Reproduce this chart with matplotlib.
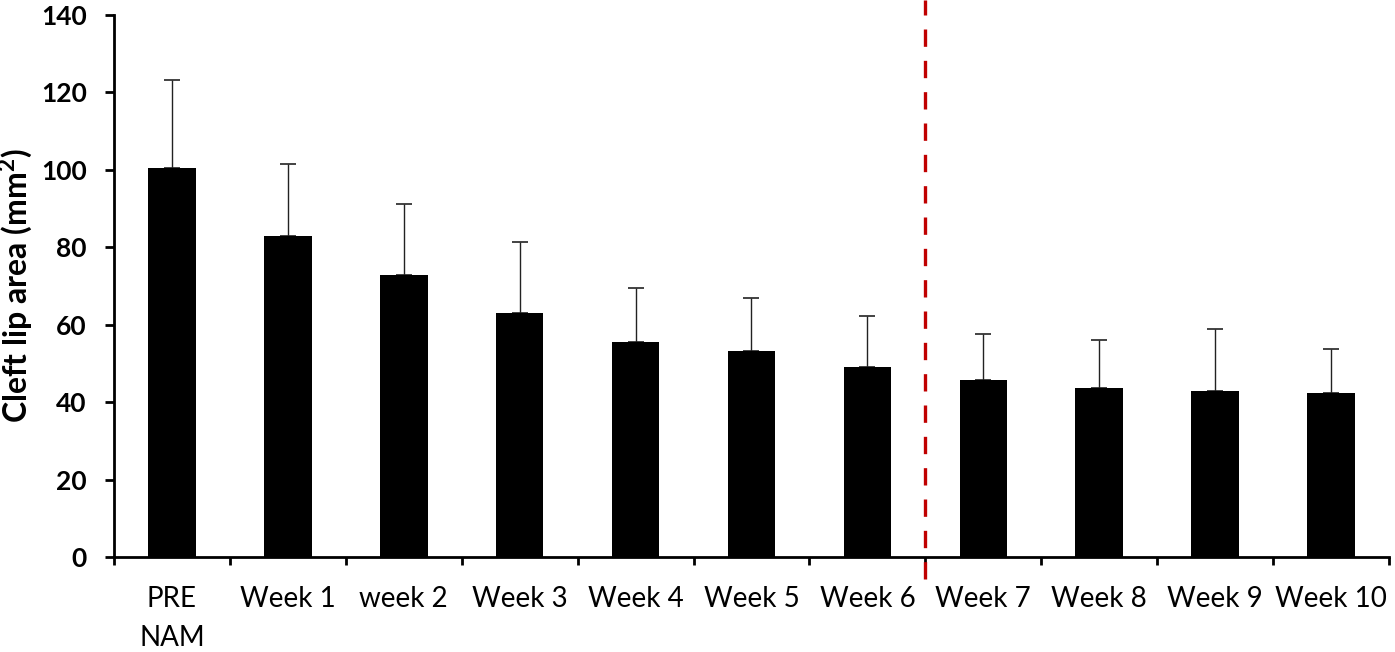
import matplotlib.pyplot as plt
import numpy as np

categories = ['PRE\nNAM', 'Week 1', 'week 2', 'Week 3', 'Week 4', 'Week 5',
              'Week 6', 'Week 7', 'Week 8', 'Week 9', 'Week 10']
mean_area = [100.5, 82.8, 72.8, 63.0, 55.6, 53.3, 49.0, 45.6, 43.6, 43.0, 42.4]
upper_err = [22.8, 18.8, 18.3, 18.3, 14.0, 13.7, 13.3, 12.0, 12.5, 16.0, 11.4]
cutoff = 6.5  # red dashed divider between week 6 and week 7

plt.rcParams['font.family'] = ['Lato', 'DejaVu Sans']

fig = plt.figure(figsize=(13.95, 6.52), dpi=100)
ax = fig.add_axes([0.0817, 0.1457, 0.9140, 0.8313])

x = np.arange(len(categories))
ax.bar(x, mean_area, width=0.41, color='black', zorder=2)
ax.errorbar(x, mean_area, yerr=[np.zeros(len(x)), upper_err], fmt='none',
            ecolor='#222222', elinewidth=1.0, capsize=5.5, capthick=1.2, zorder=1)

ax.plot([cutoff, cutoff], [-5.6, 143.8], color='#C00000', lw=2.4,
        dashes=(5.2, 4.2), clip_on=False, zorder=3)

ax.set_xlim(-0.5, len(categories) - 0.5)
ax.set_ylim(0, 140)
ax.set_yticks(range(0, 141, 20))
ax.set_yticklabels([str(v) for v in range(0, 141, 20)], fontsize=19, fontweight='bold')

# category labels centered, ticks on the category boundaries
ax.set_xticks(np.arange(-0.5, len(categories), 1.0))
ax.set_xticklabels([])
ax.set_xticks(x, minor=True)
ax.set_xticklabels(categories, minor=True, fontsize=20, linespacing=1.6)
ax.tick_params(axis='x', which='minor', length=0, pad=21)
ax.tick_params(axis='x', which='major', direction='out', length=6, width=2)
ax.tick_params(axis='y', direction='out', length=6.5, width=2, pad=13)

for side in ['top', 'right']:
    ax.spines[side].set_visible(False)
ax.spines['left'].set_linewidth(2)
ax.spines['bottom'].set_linewidth(2)

ax.set_ylabel('Cleft lip area (mm$^{\\mathregular{2}}$)', fontsize=23, fontweight='bold', labelpad=4)

fig.savefig('out.png', dpi=100)
